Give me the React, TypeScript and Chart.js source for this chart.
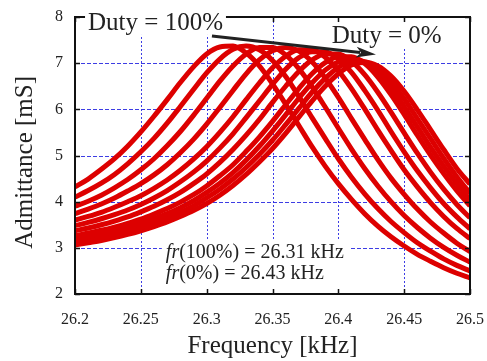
import React, { useEffect, useRef } from 'react';
import { Chart, registerables } from 'chart.js';

Chart.register(...registerables);

// Frequency grid [kHz]
const freqs = [
  26.2, 26.21, 26.22, 26.23, 26.24, 26.25, 26.26, 26.27, 26.28, 26.29,
  26.3, 26.31, 26.32, 26.33, 26.34, 26.35, 26.36, 26.37, 26.38, 26.39,
  26.4, 26.41, 26.42, 26.43, 26.44, 26.45, 26.46, 26.47, 26.48, 26.49, 26.5,
];

// Admittance [mS] for each duty ratio
const duty100 = [4.32,4.49,4.70,4.93,5.20,5.51,5.85,6.21,6.58,6.92,7.20,7.35,7.37,7.22,6.94,6.55,6.11,5.65,5.19,4.77,4.39,4.05,3.74,3.47,3.24,3.04,2.86,2.71,2.57,2.45,2.35];
const duty90 = [4.10,4.24,4.40,4.59,4.82,5.08,5.37,5.70,6.06,6.43,6.79,7.09,7.30,7.37,7.29,7.06,6.71,6.28,5.82,5.37,4.93,4.53,4.17,3.85,3.57,3.33,3.11,2.93,2.76,2.62,2.50];
const duty80 = [3.90,4.01,4.14,4.30,4.48,4.69,4.93,5.21,5.52,5.87,6.24,6.61,6.94,7.20,7.34,7.34,7.18,6.88,6.49,6.05,5.59,5.14,4.72,4.34,4.00,3.70,3.44,3.21,3.01,2.84,2.69];
const duty70 = [3.74,3.84,3.95,4.08,4.23,4.39,4.58,4.80,5.06,5.35,5.68,6.04,6.41,6.77,7.07,7.27,7.34,7.26,7.03,6.68,6.26,5.80,5.35,4.91,4.51,4.16,3.84,3.56,3.32,3.10,2.92];
const duty60 = [3.60,3.68,3.77,3.88,4.00,4.13,4.29,4.47,4.68,4.92,5.19,5.50,5.84,6.21,6.57,6.90,7.15,7.29,7.29,7.13,6.84,6.45,6.01,5.55,5.11,4.69,4.32,3.98,3.68,3.42,3.20];
const duty50 = [3.48,3.55,3.63,3.72,3.82,3.94,4.08,4.24,4.43,4.64,4.88,5.16,5.47,5.82,6.18,6.54,6.87,7.12,7.25,7.25,7.09,6.80,6.41,5.98,5.52,5.08,4.67,4.30,3.96,3.67,3.41];
const duty40 = [3.37,3.43,3.50,3.58,3.67,3.78,3.90,4.04,4.20,4.39,4.60,4.85,5.13,5.44,5.78,6.15,6.50,6.82,7.07,7.20,7.20,7.04,6.75,6.37,5.94,5.49,5.05,4.64,4.27,3.94,3.65];
const duty30 = [3.26,3.32,3.38,3.45,3.53,3.62,3.73,3.85,3.99,4.15,4.34,4.56,4.80,5.09,5.40,5.74,6.10,6.45,6.77,7.01,7.14,7.14,6.99,6.70,6.32,5.89,5.44,5.01,4.61,4.24,3.91];
const duty20 = [3.19,3.24,3.30,3.36,3.44,3.53,3.63,3.74,3.87,4.02,4.20,4.40,4.63,4.90,5.20,5.53,5.88,6.24,6.57,6.85,7.03,7.10,7.02,6.80,6.47,6.06,5.62,5.18,4.77,4.39,4.04];
const duty10 = [3.12,3.17,3.23,3.29,3.36,3.44,3.54,3.65,3.77,3.91,4.08,4.27,4.49,4.74,5.02,5.33,5.67,6.02,6.37,6.67,6.91,7.03,7.03,6.88,6.60,6.23,5.80,5.37,4.94,4.54,4.18];
const duty0 = [3.06,3.11,3.16,3.22,3.29,3.37,3.46,3.56,3.68,3.81,3.96,4.14,4.35,4.59,4.86,5.15,5.48,5.83,6.18,6.50,6.77,6.96,7.02,6.94,6.72,6.39,5.99,5.56,5.13,4.72,4.38];

const seriesNames = ['100%', '90%', '80%', '70%', '60%', '50%', '40%', '30%', '20%', '10%', '0%'];
const seriesValues = [duty100, duty90, duty80, duty70, duty60, duty50, duty40, duty30, duty20, duty10, duty0];

const xTickValues = [26.2, 26.25, 26.3, 26.35, 26.4, 26.45, 26.5];
const xTickLabels = ['26.2', '26.25', '26.3', '26.35', '26.4', '26.45', '26.5'];
const yTickValues = [2, 3, 4, 5, 6, 7, 8];
const yTickLabels = ['2', '3', '4', '5', '6', '7', '8'];

const xTitle = 'Frequency [kHz]';
const yTitle = 'Admittance [mS]';
const labelHigh = 'Duty = 100%';
const labelLow = 'Duty = 0%';
const frHighRest = '(100%) = 26.31 kHz';
const frLowRest = '(0%) = 26.43 kHz';

// annotation anchors, in data units
const labelHighPos = [26.2099, 7.72];
const labelLowPos = [26.395, 7.436];
const arrowFrom = [26.304, 7.59];
const arrowTo = [26.4286, 7.19];
const frPos1 = [26.269, 2.78];
const frPos2 = [26.269, 2.325];
const yTitleCenterValue = 4.85;

const SERIF = "'Liberation Serif', 'DejaVu Serif', serif";
const TEXT = '#222';
const RED = '#dd0000';
const GRID_BLUE = 'rgba(40,40,225,0.9)';

const decor = {
  id: 'decor',
  beforeDatasetsDraw(chart: any) {
    const { ctx, chartArea: a, scales } = chart;
    const xs = scales.x;
    const ys = scales.y;
    ctx.save();
    ctx.strokeStyle = GRID_BLUE;
    ctx.lineWidth = 1;
    ctx.setLineDash([4, 2]);
    for (const v of yTickValues) {
      const py = Math.round(ys.getPixelForValue(v)) + 0.5;
      ctx.beginPath();
      ctx.moveTo(a.left, py);
      ctx.lineTo(a.right, py);
      ctx.stroke();
    }
    ctx.setLineDash([2, 2]);
    for (const v of xTickValues) {
      const px = Math.round(xs.getPixelForValue(v)) + 0.5;
      ctx.beginPath();
      ctx.moveTo(px, a.top);
      ctx.lineTo(px, a.bottom);
      ctx.stroke();
    }
    ctx.restore();
  },
  afterDatasetsDraw(chart: any) {
    const { ctx, chartArea: a, scales } = chart;
    const xs = scales.x;
    const ys = scales.y;
    ctx.save();
    ctx.strokeStyle = '#111';
    ctx.lineWidth = 2;
    ctx.setLineDash([]);
    ctx.strokeRect(a.left, a.top, a.right - a.left, a.bottom - a.top);
    const tl = 5;
    ctx.lineWidth = 1.5;
    for (const v of xTickValues) {
      const px = Math.round(xs.getPixelForValue(v)) + 0.5;
      ctx.beginPath();
      ctx.moveTo(px, a.bottom);
      ctx.lineTo(px, a.bottom - tl);
      ctx.moveTo(px, a.top);
      ctx.lineTo(px, a.top + tl);
      ctx.stroke();
    }
    for (const v of yTickValues) {
      const py = Math.round(ys.getPixelForValue(v)) + 0.5;
      ctx.beginPath();
      ctx.moveTo(a.left, py);
      ctx.lineTo(a.left + tl, py);
      ctx.moveTo(a.right, py);
      ctx.lineTo(a.right - tl, py);
      ctx.stroke();
    }
    ctx.restore();
  },
  afterDraw(chart: any) {
    const { ctx, scales } = chart;
    const xs = scales.x;
    const ys = scales.y;
    const P = (p: number[]) => [xs.getPixelForValue(p[0]), ys.getPixelForValue(p[1])];
    ctx.save();

    // y axis title
    ctx.save();
    ctx.translate(25, ys.getPixelForValue(yTitleCenterValue));
    ctx.rotate(-Math.PI / 2);
    ctx.font = `25px ${SERIF}`;
    ctx.textAlign = 'center';
    ctx.textBaseline = 'middle';
    ctx.fillStyle = TEXT;
    ctx.fillText(yTitle, 0, 0);
    ctx.restore();

    ctx.textBaseline = 'alphabetic';
    ctx.textAlign = 'left';

    // Duty = 100%
    ctx.font = `25px ${SERIF}`;
    let [tx, ty] = P(labelHighPos);
    let w = ctx.measureText(labelHigh).width;
    ctx.fillStyle = '#fff';
    ctx.fillRect(tx - 3, ty - 21, w + 6, 26);
    ctx.fillStyle = TEXT;
    ctx.fillText(labelHigh, tx, ty);

    // Duty = 0%
    [tx, ty] = P(labelLowPos);
    w = ctx.measureText(labelLow).width;
    ctx.fillStyle = '#fff';
    ctx.fillRect(tx - 3, ty - 21, w + 6, 26);
    ctx.fillStyle = TEXT;
    ctx.fillText(labelLow, tx, ty);

    // arrow
    const [x0, y0] = P(arrowFrom);
    const [x1, y1] = P(arrowTo);
    const ang = Math.atan2(y1 - y0, x1 - x0);
    const hl = 20, hw = 5.5;
    const bx = x1 - hl * Math.cos(ang);
    const by = y1 - hl * Math.sin(ang);
    ctx.strokeStyle = TEXT;
    ctx.lineWidth = 3;
    ctx.beginPath();
    ctx.moveTo(x0, y0);
    ctx.lineTo(bx + 4 * Math.cos(ang), by + 4 * Math.sin(ang));
    ctx.stroke();
    ctx.fillStyle = TEXT;
    ctx.beginPath();
    ctx.moveTo(x1, y1);
    ctx.lineTo(bx - hw * Math.sin(ang), by + hw * Math.cos(ang));
    ctx.lineTo(bx + 5 * Math.cos(ang), by + 5 * Math.sin(ang));
    ctx.lineTo(bx + hw * Math.sin(ang), by - hw * Math.cos(ang));
    ctx.closePath();
    ctx.fill();

    // fr annotations
    const fsz = 20;
    const italic = `italic ${fsz}px ${SERIF}`;
    const normal = `${fsz}px ${SERIF}`;
    const [fx1, fy1] = P(frPos1);
    const [fx2, fy2] = P(frPos2);
    ctx.font = italic;
    const wf = ctx.measureText('fr').width;
    ctx.font = normal;
    const w1 = wf + ctx.measureText(frHighRest).width;
    const w2 = wf + ctx.measureText(frLowRest).width;
    ctx.fillStyle = '#fff';
    ctx.fillRect(fx1 - 4, fy1 - 18, Math.max(w1, w2) + 10, fy2 - fy1 + 26);
    ctx.fillStyle = TEXT;
    ctx.font = italic;
    ctx.fillText('fr', fx1, fy1);
    ctx.fillText('fr', fx2, fy2);
    ctx.font = normal;
    ctx.fillText(frHighRest, fx1 + wf, fy1);
    ctx.fillText(frLowRest, fx2 + wf, fy2);
    ctx.restore();
  },
};

export default function App() {
  const ref = useRef<HTMLCanvasElement | null>(null);

  useEffect(() => {
    if (!ref.current) return;
    const datasets = seriesValues.map((vals, k) => ({
      label: seriesNames[k],
      data: freqs.map((f, i) => ({ x: f, y: vals[i] })),
      borderColor: RED,
      backgroundColor: RED,
      borderWidth: 5,
      pointRadius: 0,
      fill: false,
      cubicInterpolationMode: 'monotone' as const,
      clip: 0,
    }));
    const chart = new Chart(ref.current, {
      type: 'line',
      data: { datasets },
      options: {
        animation: false,
        responsive: false,
        devicePixelRatio: 1,
        layout: { padding: { top: 17, right: 17, left: 0, bottom: 0 } },
        plugins: { legend: { display: false }, tooltip: { enabled: false } },
        scales: {
          x: {
            type: 'linear',
            min: 26.2,
            max: 26.5,
            afterBuildTicks: (s: any) => {
              s.ticks = xTickValues.map((v) => ({ value: v }));
            },
            afterFit: (s: any) => {
              s.height = 67;
              s.paddingLeft = 0;
              s.paddingRight = 0;
            },
            grid: { display: false, drawTicks: false },
            border: { display: false },
            ticks: {
              autoSkip: false,
              maxRotation: 0,
              padding: 16,
              color: TEXT,
              font: { family: SERIF, size: 16 },
              callback: (_v: any, i: number) => xTickLabels[i],
            },
            title: {
              display: true,
              text: xTitle,
              color: TEXT,
              font: { family: SERIF, size: 25 },
              padding: { top: 0, bottom: 0 },
            },
          },
          y: {
            type: 'linear',
            min: 2,
            max: 8,
            afterBuildTicks: (s: any) => {
              s.ticks = yTickValues.map((v) => ({ value: v }));
            },
            afterFit: (s: any) => {
              s.width = 75;
              s.paddingTop = 0;
              s.paddingBottom = 0;
            },
            grid: { display: false, drawTicks: false },
            border: { display: false },
            ticks: {
              padding: 12,
              color: TEXT,
              font: { family: SERIF, size: 16 },
              callback: (_v: any, i: number) => yTickLabels[i],
            },
            title: { display: false },
          },
        },
      },
      plugins: [decor],
    });
    return () => chart.destroy();
  }, []);

  return (
    <div style={{ position: 'fixed', left: 0, top: 0, width: 487, height: 361, background: '#fff' }}>
      <canvas ref={ref} width={487} height={361} style={{ display: 'block', width: 487, height: 361 }} />
    </div>
  );
}
